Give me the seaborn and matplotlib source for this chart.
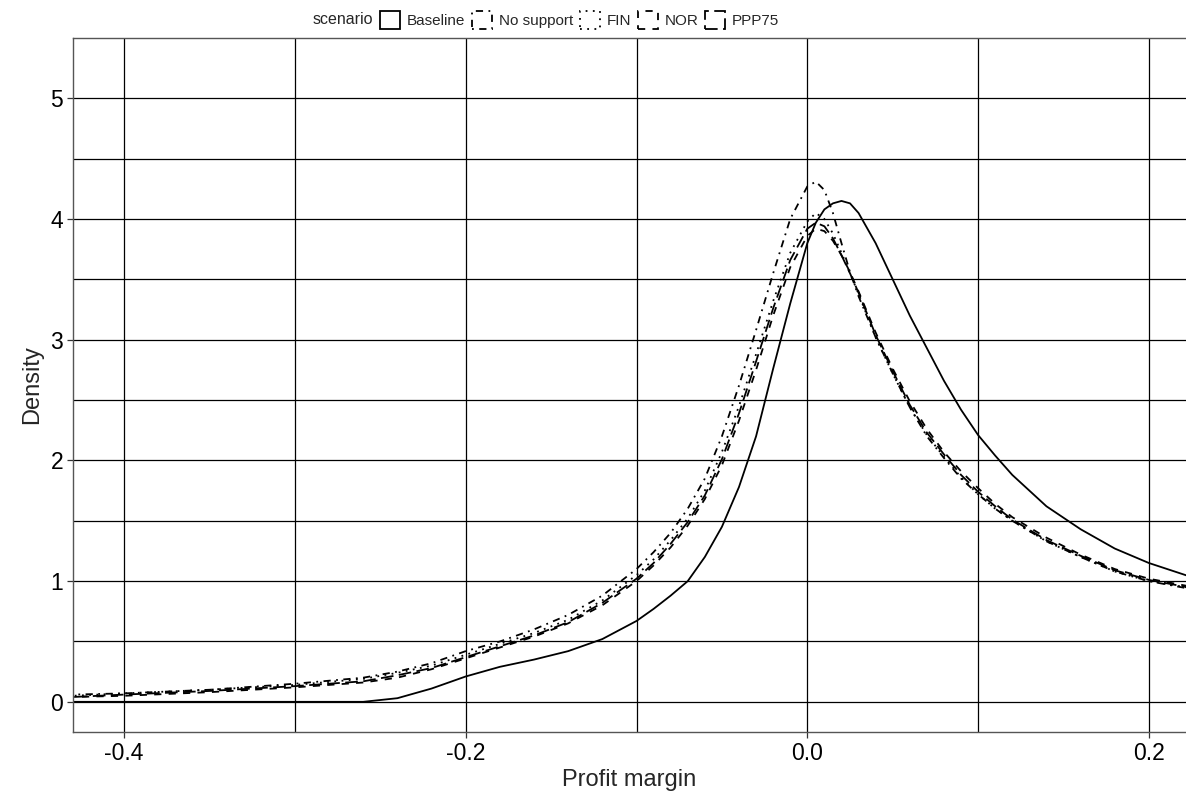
import numpy as np
import pandas as pd
import matplotlib
matplotlib.use("Agg")
import matplotlib.pyplot as plt
from matplotlib.patches import Patch
import seaborn as sns

# Profit margin grid (x) and density
profit_margin = [-0.45, -0.43, -0.40, -0.35, -0.30, -0.26, -0.24, -0.22, -0.20, -0.18,
                 -0.16, -0.14, -0.12, -0.10, -0.09, -0.08, -0.07, -0.06, -0.05, -0.04,
                 -0.03, -0.02, -0.01, 0.0, 0.005, 0.01, 0.015, 0.02, 0.025, 0.03,
                 0.04, 0.05, 0.06, 0.07, 0.08, 0.09, 0.10, 0.11, 0.12, 0.14,
                 0.16, 0.18, 0.20, 0.23]

baseline = [0.0, 0.0, 0.0, 0.0, 0.0, 0.0, 0.03, 0.11, 0.21, 0.29,
            0.35, 0.42, 0.52, 0.67, 0.77, 0.88, 1.00, 1.20, 1.45, 1.78,
            2.20, 2.76, 3.30, 3.80, 3.97, 4.08, 4.13, 4.15, 4.13, 4.05,
            3.80, 3.50, 3.20, 2.93, 2.66, 2.42, 2.21, 2.04, 1.88, 1.62,
            1.43, 1.27, 1.15, 1.01]

no_support = [0.05, 0.06, 0.07, 0.10, 0.15, 0.20, 0.25, 0.32, 0.42, 0.50,
              0.60, 0.72, 0.88, 1.10, 1.24, 1.40, 1.60, 1.85, 2.20, 2.62,
              3.08, 3.55, 4.00, 4.27, 4.31, 4.24, 4.05, 3.80, 3.56, 3.36,
              3.02, 2.72, 2.44, 2.20, 2.02, 1.85, 1.72, 1.60, 1.50, 1.33,
              1.20, 1.08, 1.00, 0.92]

fin = [0.05, 0.05, 0.07, 0.10, 0.14, 0.19, 0.24, 0.30, 0.39, 0.48,
       0.57, 0.68, 0.84, 1.05, 1.18, 1.34, 1.52, 1.75, 2.07, 2.45,
       2.88, 3.32, 3.72, 3.98, 4.05, 4.00, 3.88, 3.72, 3.55, 3.38,
       3.02, 2.72, 2.44, 2.21, 2.03, 1.86, 1.72, 1.60, 1.50, 1.33,
       1.20, 1.08, 1.00, 0.93]

nor = [0.04, 0.04, 0.05, 0.08, 0.12, 0.16, 0.20, 0.27, 0.36, 0.45,
       0.54, 0.65, 0.80, 1.00, 1.13, 1.28, 1.46, 1.68, 1.96, 2.33,
       2.75, 3.20, 3.60, 3.86, 3.92, 3.90, 3.82, 3.70, 3.56, 3.40,
       3.06, 2.76, 2.49, 2.26, 2.07, 1.91, 1.77, 1.64, 1.53, 1.36,
       1.22, 1.10, 1.02, 0.94]

ppp75 = [0.04, 0.04, 0.06, 0.09, 0.13, 0.17, 0.22, 0.28, 0.37, 0.46,
         0.55, 0.66, 0.82, 1.02, 1.15, 1.31, 1.49, 1.71, 2.01, 2.39,
         2.82, 3.26, 3.66, 3.92, 3.97, 3.94, 3.84, 3.70, 3.55, 3.39,
         3.04, 2.74, 2.46, 2.23, 2.05, 1.88, 1.74, 1.62, 1.51, 1.34,
         1.21, 1.09, 1.01, 0.93]

scenarios = ["Baseline", "No support", "FIN", "NOR", "PPP75"]
series = [baseline, no_support, fin, nor, ppp75]

# ggplot-like linetypes
line_dashes = {"Baseline": "",
               "No support": (1, 3, 4, 3),
               "FIN": (1, 3),
               "NOR": (4, 4),
               "PPP75": (7, 3)}

df = pd.concat([pd.DataFrame({"profit_margin": profit_margin, "density": s, "scenario": name})
                for name, s in zip(scenarios, series)], ignore_index=True)

sns.set_style("white")
plt.rcParams["font.family"] = ["Liberation Sans", "DejaVu Sans"]

fig = plt.figure(figsize=(11.86, 7.97), dpi=100)
ax = fig.add_axes([73 / 1186, 1 - 732 / 797, 1 - 73 / 1186, (732 - 38) / 797])

sns.lineplot(data=df, x="profit_margin", y="density", style="scenario",
             dashes=line_dashes, color="black", linewidth=1.3,
             estimator=None, sort=False, legend=False, ax=ax)

ax.set_xlim(-0.4299, 0.2217)
ax.set_ylim(-0.25, 5.5)
ax.set_xticks([-0.4, -0.2, 0.0, 0.2])
ax.set_xticklabels(["-0.4", "-0.2", "0.0", "0.2"])
ax.set_yticks([0, 1, 2, 3, 4, 5])
ax.set_xticks([-0.3, -0.1, 0.1], minor=True)
ax.set_yticks([0.5, 1.5, 2.5, 3.5, 4.5], minor=True)
ax.grid(which="both", color="black", linewidth=0.9)
ax.set_axisbelow(True)
ax.tick_params(axis="both", which="major", labelsize=16.5, length=4, width=0.9,
               color="#333333", labelcolor="black", pad=3, left=True, bottom=True)
ax.tick_params(axis="both", which="minor", length=0)
for side in ["left", "top", "bottom"]:
    ax.spines[side].set_color("#555555")
    ax.spines[side].set_linewidth(1.0)
ax.spines["right"].set_visible(False)
ax.set_xlabel("Profit margin", fontsize=17, labelpad=3)
ax.set_ylabel("Density", fontsize=17, labelpad=5)

handles = [Patch(facecolor="white", edgecolor="black", linewidth=1.3,
                 linestyle="solid" if line_dashes[n] == "" else (0, line_dashes[n]))
           for n in scenarios]
fig.text(373 / 1186, 1 - 20 / 797, "scenario", ha="right", va="center", fontsize=11.5)
fig.legend(handles, scenarios, loc="center left", bbox_to_anchor=(380 / 1186, 1 - 20 / 797),
           ncol=5, frameon=False, fontsize=11, handlelength=1.3, handleheight=1.35,
           handletextpad=0.45, columnspacing=0.45, borderaxespad=0, borderpad=0)

fig.savefig("out.png", dpi=100)
